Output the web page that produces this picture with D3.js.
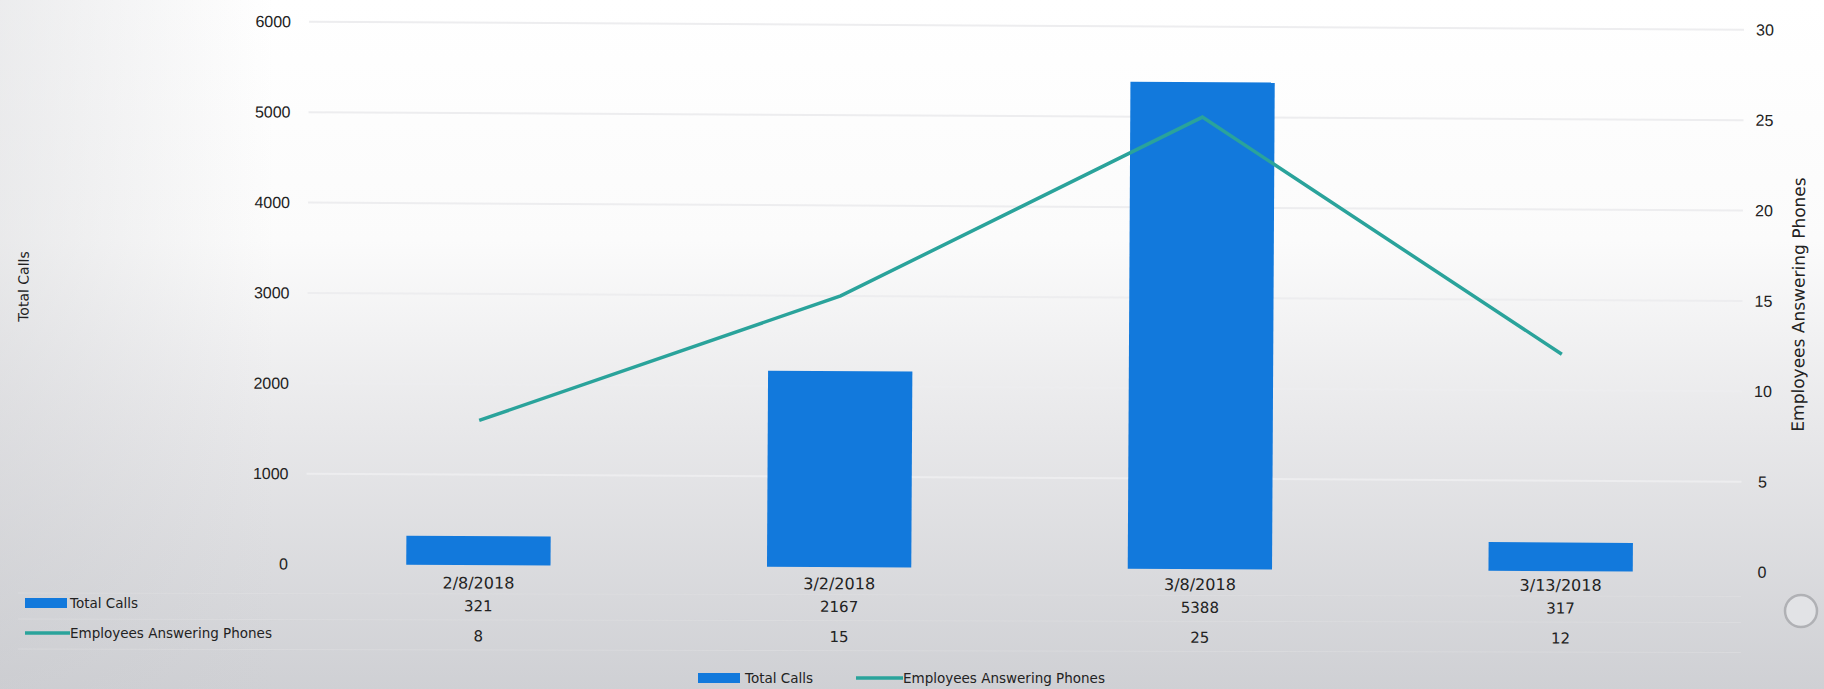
<!DOCTYPE html>
<html>
<head>
<meta charset="utf-8">
<script src="https://cdn.jsdelivr.net/npm/d3@7"></script>
<style>
  html, body { margin: 0; padding: 0; background: #fff; }
  svg { display: block; font-family: "DejaVu Sans", sans-serif; }
</style>
</head>
<body>
<script>
'use strict';

let WIDTH = 1824;
let HEIGHT = 689;

// data
let dates = ['2/8/2018', '3/2/2018', '3/8/2018', '3/13/2018'];
let totalCalls = [321, 2167, 5388, 317];
let employees = [8, 15, 25, 12];
let leftTicks = [0, 1000, 2000, 3000, 4000, 5000, 6000];
let rightTicks = [0, 5, 10, 15, 20, 25, 30];

let BAR_COLOR = '#1279dc';
let LINE_COLOR = '#2aa39b';
let TEXT_COLOR = '#222';

let svg = d3.select('body')
    .append('svg')
    .attr('width', WIDTH)
    .attr('height', HEIGHT);

// photo-ish background: white on top, grey towards the bottom
let defs = svg.append('defs');
let grad = defs.append('linearGradient')
    .attr('id', 'bg')
    .attr('x1', 0).attr('y1', 0).attr('x2', 0).attr('y2', 1);
grad.append('stop').attr('offset', '0%').attr('stop-color', '#ffffff');
grad.append('stop').attr('offset', '35%').attr('stop-color', '#fbfbfb');
grad.append('stop').attr('offset', '62%').attr('stop-color', '#e8e8ea');
grad.append('stop').attr('offset', '100%').attr('stop-color', '#cfd0d4');

let sideGrad = defs.append('linearGradient')
    .attr('id', 'side')
    .attr('x1', 0).attr('y1', 0).attr('x2', 1).attr('y2', 0);
sideGrad.append('stop').attr('offset', '0%').attr('stop-color', '#c8c9cd').attr('stop-opacity', 0.35);
sideGrad.append('stop').attr('offset', '15%').attr('stop-color', '#c8c9cd').attr('stop-opacity', 0);

svg.append('rect').attr('width', WIDTH).attr('height', HEIGHT).attr('fill', 'url(#bg)');
svg.append('rect').attr('width', WIDTH).attr('height', HEIGHT).attr('fill', 'url(#side)');

// the page was photographed slightly tilted
let chart = svg.append('g')
    .attr('transform', 'rotate(0.32, 1000, 568)');

let x = d3.scaleBand()
    .domain(dates)
    .range([298, 1741])
    .paddingInner(0.6)
    .paddingOuter(0.3);

let yLeft = d3.scaleLinear()
    .domain([0, 6000])
    .range([568, 25.6]);

let yRight = d3.scaleLinear()
    .domain([0, 30])
    .range([568, 25.6]);

// gridlines
chart.append('g')
    .selectAll('line')
    .data(leftTicks.slice(1))
    .enter()
    .append('line')
    .attr('x1', 306)
    .attr('x2', 1741)
    .attr('y1', (d) => yLeft(d))
    .attr('y2', (d) => yLeft(d))
    .attr('stroke', '#ededef')
    .attr('stroke-width', 2);

// left axis
let leftAxis = chart.append('g')
    .attr('transform', 'translate(288,0)')
    .call(d3.axisLeft(yLeft).tickValues(leftTicks).tickFormat(d3.format('d')).tickSize(0).tickPadding(0));
leftAxis.select('.domain').remove();
leftAxis.selectAll('text')
    .attr('fill', TEXT_COLOR)
    .style('font-size', '16px');

// right axis
let rightAxis = chart.append('g')
    .attr('transform', 'translate(1762,0)')
    .call(d3.axisRight(yRight).tickValues(rightTicks).tickFormat(d3.format('d')).tickSize(0).tickPadding(0));
rightAxis.select('.domain').remove();
rightAxis.selectAll('text')
    .attr('fill', TEXT_COLOR)
    .attr('text-anchor', 'middle')
    .style('font-size', '16px');

// axis titles
chart.append('text')
    .attr('transform', 'translate(27,292) rotate(-90)')
    .attr('text-anchor', 'middle')
    .attr('fill', TEXT_COLOR)
    .style('font-size', '14px')
    .text('Total Calls');

chart.append('text')
    .attr('transform', 'translate(1803,300) rotate(-90)')
    .attr('text-anchor', 'middle')
    .attr('fill', TEXT_COLOR)
    .style('font-size', '17px')
    .text('Employees Answering Phones');

// bars
chart.append('g')
    .selectAll('rect')
    .data(dates)
    .enter()
    .append('rect')
    .attr('x', (d) => x(d))
    .attr('width', x.bandwidth())
    .attr('y', (d, i) => yLeft(totalCalls[i]))
    .attr('height', (d, i) => yLeft(0) - yLeft(totalCalls[i]))
    .attr('fill', BAR_COLOR);

// line
let lineGen = d3.line()
    .x((d, i) => x(dates[i]) + x.bandwidth() / 2)
    .y((d) => yRight(d));

chart.append('path')
    .attr('d', lineGen(employees))
    .attr('fill', 'none')
    .attr('stroke', LINE_COLOR)
    .attr('stroke-width', 3.5);

// data table under the chart (tilts less than the plot in the photo)
let table = svg.append('g')
    .attr('transform', 'rotate(0.12, 1000, 600)');
let rows = [dates, totalCalls, employees];
let rowY = [584, 607, 637];
rows.forEach((row, r) => {
    table.append('g')
        .selectAll('text')
        .data(row)
        .enter()
        .append('text')
        .attr('x', (d, i) => x(dates[i]) + x.bandwidth() / 2)
        .attr('y', rowY[r])
        .attr('dy', '0.35em')
        .attr('text-anchor', 'middle')
        .attr('fill', TEXT_COLOR)
        .style('font-size', r === 0 ? '16px' : '15px')
        .text((d) => d);
});

// faint table rules
table.append('g')
    .selectAll('line')
    .data([595, 621, 651])
    .enter()
    .append('line')
    .attr('x1', 18)
    .attr('x2', 1741)
    .attr('y1', (d) => d)
    .attr('y2', (d) => d)
    .attr('stroke', '#e2e2e4')
    .attr('stroke-opacity', 0.5)
    .attr('stroke-width', 1);

// table row keys
let rowKeys = [
    {label: 'Total Calls', y: 603, type: 'bar'},
    {label: 'Employees Answering Phones', y: 633, type: 'line'},
];
let keys = svg.append('g');
rowKeys.forEach((k) => {
    if (k.type === 'bar') {
        keys.append('rect')
            .attr('x', 25).attr('y', k.y - 5)
            .attr('width', 42).attr('height', 10)
            .attr('fill', BAR_COLOR);
    } else {
        keys.append('line')
            .attr('x1', 25).attr('x2', 70)
            .attr('y1', k.y).attr('y2', k.y)
            .attr('stroke', LINE_COLOR).attr('stroke-width', 3.5);
    }
    keys.append('text')
        .attr('x', 70)
        .attr('y', k.y)
        .attr('dy', '0.35em')
        .attr('fill', TEXT_COLOR)
        .style('font-size', '13.5px')
        .text(k.label);
});

// bottom legend
let legend = svg.append('g');
legend.append('rect')
    .attr('x', 698).attr('y', 673)
    .attr('width', 42).attr('height', 10)
    .attr('fill', BAR_COLOR);
legend.append('text')
    .attr('x', 745).attr('y', 678).attr('dy', '0.35em')
    .attr('fill', TEXT_COLOR)
    .style('font-size', '13.5px')
    .text('Total Calls');
legend.append('line')
    .attr('x1', 856).attr('x2', 903)
    .attr('y1', 678).attr('y2', 678)
    .attr('stroke', LINE_COLOR).attr('stroke-width', 3.5);
legend.append('text')
    .attr('x', 903).attr('y', 678).attr('dy', '0.35em')
    .attr('fill', TEXT_COLOR)
    .style('font-size', '13.5px')
    .text('Employees Answering Phones');

// the little ring that sits on the photographed page
svg.append('circle')
    .attr('cx', 1801).attr('cy', 611)
    .attr('r', 16)
    .attr('fill', '#e2e3e6')
    .attr('stroke', '#b0b1b5')
    .attr('stroke-width', 2.5);
</script>
</body>
</html>
